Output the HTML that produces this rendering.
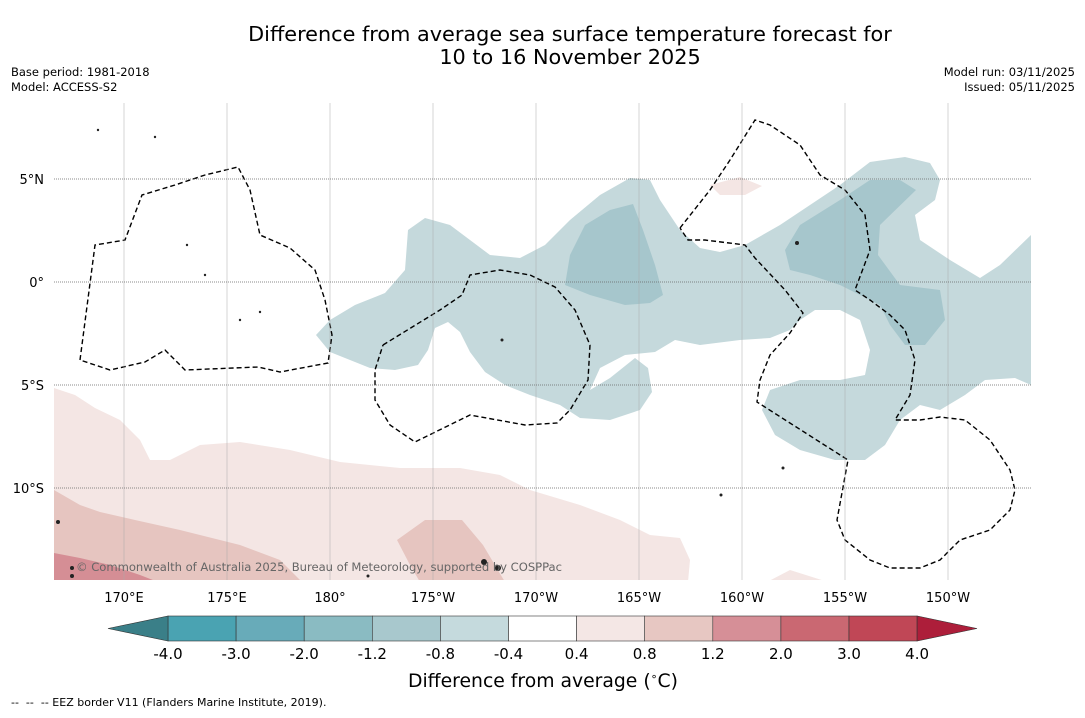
<!DOCTYPE html>
<html><head><meta charset="utf-8"><style>
body{margin:0;background:#fff;font-family:"Liberation Sans","DejaVu Sans",sans-serif;}
svg text{font-family:"DejaVu Sans","Liberation Sans",sans-serif;}
</style></head><body>
<svg id="chart" width="1085" height="713" viewBox="0 0 1085 713" xmlns="http://www.w3.org/2000/svg">
<text x="570" y="41" font-size="20.8" text-anchor="middle">Difference from average sea surface temperature forecast for</text>
<text x="570" y="64" font-size="20.8" text-anchor="middle">10 to 16 November 2025</text>
<text x="11" y="76" font-size="11.5">Base period: 1981-2018</text>
<text x="11" y="91" font-size="11.5">Model: ACCESS-S2</text>
<text x="1075" y="76" font-size="11.5" text-anchor="end">Model run: 03/11/2025</text>
<text x="1075" y="91" font-size="11.5" text-anchor="end">Issued: 05/11/2025</text>
<defs><clipPath id="mc"><rect x="54" y="103" width="977" height="477"/></clipPath></defs>
<g clip-path="url(#mc)">
<path fill="#f4e6e4" d="M54,388 L75,395 95,408 120,420 140,440 150,460 170,460 200,445 240,442 290,450 340,462 400,468 460,468 500,475 530,490 580,505 620,520 650,535 680,538 690,560 688,582 54,582Z M710,185 L740,177 762,186 745,195 720,195Z M767,582 L790,570 828,582Z"/>
<path fill="#e6c5c0" d="M54,490 L80,505 100,512 135,520 180,530 240,545 280,560 302,582 54,582Z M397,540 L425,520 462,520 483,545 505,582 420,582 410,565Z"/>
<path fill="#d58e95" d="M54,553 L80,558 110,565 140,575 158,582 54,582Z"/>
<path fill="#c5d9dc" d="M316,335 L330,320 355,305 385,293 405,270 408,230 425,218 450,225 470,240 490,255 520,258 545,245 570,220 600,195 630,178 650,180 660,200 680,230 700,248 720,252 745,245 780,225 810,205 840,185 870,162 905,157 930,163 940,180 935,200 915,215 920,240 950,260 980,278 1000,265 1031,235 1031,385 1015,378 985,380 965,395 940,410 920,405 900,420 885,445 865,460 835,460 800,450 775,435 762,410 770,390 800,380 840,380 865,375 870,350 860,320 840,310 815,310 800,320 790,330 770,338 740,340 700,345 675,340 655,352 625,355 600,368 590,390 610,378 635,358 648,368 652,392 640,410 610,420 580,418 560,405 530,395 505,385 485,372 470,352 460,332 448,322 435,328 428,350 418,365 395,370 370,368 350,360 330,352Z"/>
<path fill="#a6c6cc" d="M565,285 L570,255 585,225 610,210 633,204 643,230 655,265 663,295 650,303 625,305 590,295Z M785,250 L800,225 840,200 870,180 900,180 916,190 880,225 878,255 900,285 940,290 945,320 925,345 905,345 890,325 880,305 860,295 840,285 810,275 790,270Z"/>
<g stroke="#000" stroke-width="1.4" fill="none" stroke-dasharray="5,3">
<path d="M80,360 L95,245 125,240 142,195 175,185 205,175 238,167 250,190 260,235 290,248 315,270 325,300 332,335 328,363 280,372 258,367 185,370 165,350 145,362 110,370 80,360"/>
<path d="M383,345 L440,310 462,295 470,275 500,270 530,275 555,287 575,310 590,345 588,380 570,410 557,423 525,425 470,415 415,442 390,425 375,400 375,370 383,345"/>
<path d="M680,228 L710,190 730,160 755,120 770,125 800,145 820,175 845,190 865,215 870,250 855,290 870,300 890,315 905,330 915,360 910,395 895,420 920,420 940,417 965,420 990,440 1010,470 1015,490 1010,510 990,530 960,540 940,560 920,568 890,568 870,560 845,540 837,520 848,460 757,402 760,380 770,355 790,333 803,313 785,290 755,258 745,245 705,240 688,240 680,228"/>
</g>
<g fill="#222">
<circle cx="58" cy="522" r="2"/><circle cx="72" cy="568" r="2"/><circle cx="72" cy="576" r="2"/><circle cx="484" cy="562" r="3"/><circle cx="498" cy="568" r="3"/><circle cx="797" cy="243" r="2"/><circle cx="502" cy="340" r="1.5"/><circle cx="721" cy="495" r="1.5"/><circle cx="187" cy="245" r="1.2"/><circle cx="205" cy="275" r="1.2"/><circle cx="155" cy="137" r="1.2"/><circle cx="98" cy="130" r="1.2"/><circle cx="240" cy="320" r="1.2"/><circle cx="260" cy="312" r="1.2"/><circle cx="783" cy="468" r="1.5"/><circle cx="368" cy="576" r="1.5"/>
</g>
</g>
<g id="grid"></g>
<text x="76" y="571" font-size="11.6" fill="#666" textLength="486">© Commonwealth of Australia 2025, Bureau of Meteorology, supported by COSPPac</text>
<g id="cbar"></g>
<text x="543" y="687" font-size="18.8" text-anchor="middle">Difference from average (<tspan font-size="11" dy="-7">∘</tspan><tspan dy="7">C)</tspan></text>
<text x="11" y="706" font-size="11">-- &#160;-- &#160;-- EEZ border V11 (Flanders Marine Institute, 2019).</text>
</svg>
<script>
const lonTicks=[170,175,180,-175,-170,-165,-160,-155,-150];
const lonLabels=["170°E","175°E","180°","175°W","170°W","165°W","160°W","155°W","150°W"];
const latTicks=[5,0,-5,-10];
const latLabels=["5°N","0°","5°S","10°S"];
const levels=["-4.0","-3.0","-2.0","-1.2","-0.8","-0.4","0.4","0.8","1.2","2.0","3.0","4.0"];
const binColors=["#4aa3b2","#68abb9","#8abbc2","#a8c8cd","#c5dadd","#ffffff","#f4e7e5","#e7c7c2","#d68f97","#ca6872","#c04756"];
const ns="http://www.w3.org/2000/svg";
function xLon(l){let e=l<0?l+360:l;return 124+(e-170)*20.6;}
function yLat(l){return 282-l*20.6;}
const grid=document.getElementById('grid');
function mk(t,a,p){const e=document.createElementNS(ns,t);for(const k in a)e.setAttribute(k,a[k]);p.appendChild(e);return e;}
lonTicks.forEach((l,i)=>{const x=xLon(l);
 const ln=mk('line',{x1:x,x2:x,y1:103,y2:580,stroke:'#aaa','stroke-width':0.5},grid);
 
 
 const t=mk('text',{x:x,y:602,'font-size':13,'text-anchor':'middle'},grid);t.textContent=lonLabels[i];
 
 
});
latTicks.forEach((l,i)=>{const y=yLat(l);
 const ln=mk('line',{x1:54,x2:1031,y1:y,y2:y,stroke:'#666','stroke-width':0.7,'stroke-dasharray':'1,1'},grid);
 
 
 const t=mk('text',{x:44,y:y+5,'font-size':13,'text-anchor':'end'},grid);t.textContent=latLabels[i];
 
 
});
const cb=document.getElementById('cbar');
const x0=168,w=68.1,y0=616,h=25;
binColors.forEach((c,i)=>{const r=mk('rect',{x:x0+i*w,y:y0,width:w,height:h,fill:c,stroke:'#333','stroke-width':0.6},cb);
 
 });
const lt=mk('polygon',{points:`${x0},${y0} ${x0},${y0+h} 108,${y0+h/2}`,fill:'#3a7f88',stroke:'#333','stroke-width':0.6},cb);


const xe=x0+binColors.length*w;
const rt=mk('polygon',{points:`${xe},${y0} ${xe},${y0+h} 977,${y0+h/2}`,fill:'#ad1e3a',stroke:'#333','stroke-width':0.6},cb);


levels.forEach((v,i)=>{const t=mk('text',{x:x0+i*w,y:659,'font-size':15,'text-anchor':'middle'},cb);t.textContent=v;
 
 });
</script>
</body></html>
